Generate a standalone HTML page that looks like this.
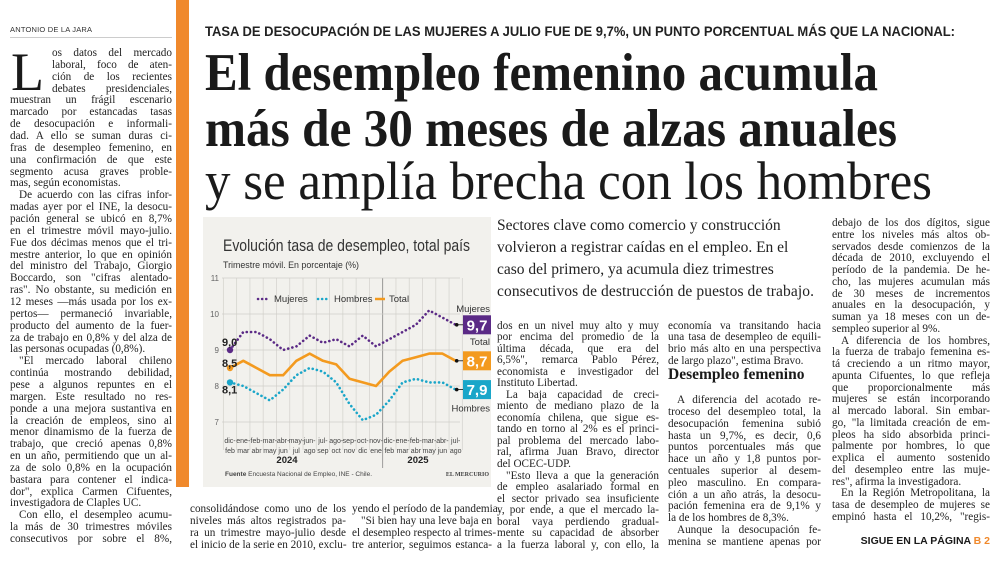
<!DOCTYPE html>
<html><head><meta charset="utf-8">
<style>
html,body{margin:0;padding:0;background:#fff;}
body{width:1000px;height:568px;position:relative;overflow:hidden;font-family:"Liberation Serif",serif;color:#1e1e1e;}
.ln{position:absolute;height:12px;line-height:12px;font-size:11.2px;font-family:"Liberation Serif",serif;text-align:justify;text-align-last:justify;white-space:nowrap;color:#222;}
.e{text-align-last:left;}
.i{text-indent:9px;}
.c1{left:10px;width:162px;}
.ca{left:497px;width:162px;}
.cb{left:668px;width:153px;}
.cc{left:832px;width:158px;}
.b1{left:190px;width:156px;}
.b2{left:352px;width:140px;}
.dk{position:absolute;left:497px;font-size:15.5px;font-family:"Liberation Serif",serif;color:#222;white-space:nowrap;height:22px;line-height:22px;}
</style></head>
<body>
<div style="position:absolute;left:176px;top:0;width:13px;height:487px;background:#f0892c;"></div>
<div style="position:absolute;left:10px;top:25px;font:7.5px 'Liberation Sans',sans-serif;color:#333;letter-spacing:0.2px;">ANTONIO DE LA JARA</div>
<div style="position:absolute;left:10px;top:37px;width:162px;height:1px;background:#ccc;"></div>

<svg style="position:absolute;left:0;top:0" width="1000" height="215">
<text x="205" y="36" font-family="Liberation Sans" font-weight="bold" font-size="14" fill="#222" textLength="750" lengthAdjust="spacingAndGlyphs">TASA DE DESOCUPACIÓN DE LAS MUJERES A JULIO FUE DE 9,7%, UN PUNTO PORCENTUAL MÁS QUE LA NACIONAL:</text>
<text x="205" y="90" font-family="Liberation Serif" font-weight="bold" font-size="53" fill="#1a1a1a" textLength="673" lengthAdjust="spacingAndGlyphs">El desempleo femenino acumula</text>
<text x="205" y="146" font-family="Liberation Serif" font-weight="bold" font-size="53" fill="#1a1a1a" textLength="692" lengthAdjust="spacingAndGlyphs">más de 30 meses de alzas anuales</text>
<text x="205" y="199" font-family="Liberation Serif" font-size="54" fill="#1a1a1a" textLength="727" lengthAdjust="spacingAndGlyphs">y se amplía brecha con los hombres</text>
<text x="11" y="90" font-family="Liberation Serif" font-size="54" fill="#1a1a1a">L</text>
</svg>

<!-- left column -->
<div class="ln" style="left:52px;width:120px;top:47px">os datos del mercado</div>
<div class="ln" style="left:52px;width:120px;top:59px">laboral, foco de aten-</div>
<div class="ln" style="left:52px;width:120px;top:71px">ción de los recientes</div>
<div class="ln" style="left:52px;width:120px;top:83px">debates presidenciales,</div>
<div class="ln c1" style="top:94px">muestran un frágil escenario</div>
<div class="ln c1" style="top:106px">marcado por estancadas tasas</div>
<div class="ln c1" style="top:118px">de desocupación e informali-</div>
<div class="ln c1" style="top:130px">dad. A ello se suman duras ci-</div>
<div class="ln c1" style="top:142px">fras de desempleo femenino, en</div>
<div class="ln c1" style="top:154px">una confirmación de que este</div>
<div class="ln c1" style="top:166px">segmento acusa graves proble-</div>
<div class="ln c1 e" style="top:177px">mas, según economistas.</div>
<div class="ln c1 i" style="top:189px">De acuerdo con las cifras infor-</div>
<div class="ln c1" style="top:201px">madas ayer por el INE, la desocu-</div>
<div class="ln c1" style="top:213px">pación general se ubicó en 8,7%</div>
<div class="ln c1" style="top:225px">en el trimestre móvil mayo-julio.</div>
<div class="ln c1" style="top:237px">Fue dos décimas menos que el tri-</div>
<div class="ln c1" style="top:249px">mestre anterior, lo que en opinión</div>
<div class="ln c1" style="top:260px">del ministro del Trabajo, Giorgio</div>
<div class="ln c1" style="top:272px">Boccardo, son "cifras alentado-</div>
<div class="ln c1" style="top:284px">ras". No obstante, su medición en</div>
<div class="ln c1" style="top:296px">12 meses —más usada por los ex-</div>
<div class="ln c1" style="top:308px">pertos— permaneció invariable,</div>
<div class="ln c1" style="top:320px">producto del aumento de la fuer-</div>
<div class="ln c1" style="top:332px">za de trabajo en 0,8% y del alza de</div>
<div class="ln c1 e" style="top:343px">las personas ocupadas (0,8%).</div>
<div class="ln c1 i" style="top:355px">"El mercado laboral chileno</div>
<div class="ln c1" style="top:367px">continúa mostrando debilidad,</div>
<div class="ln c1" style="top:379px">pese a algunos repuntes en el</div>
<div class="ln c1" style="top:391px">margen. Este resultado no res-</div>
<div class="ln c1" style="top:403px">ponde a una mejora sustantiva en</div>
<div class="ln c1" style="top:415px">la creación de empleos, sino al</div>
<div class="ln c1" style="top:426px">menor dinamismo de la fuerza de</div>
<div class="ln c1" style="top:438px">trabajo, que creció apenas 0,8%</div>
<div class="ln c1" style="top:450px">en un año, permitiendo que un al-</div>
<div class="ln c1" style="top:462px">za de solo 0,8% en la ocupación</div>
<div class="ln c1" style="top:474px">bastara para contener el indica-</div>
<div class="ln c1" style="top:486px">dor", explica Carmen Cifuentes,</div>
<div class="ln c1 e" style="top:497px">investigadora de Claples UC.</div>
<div class="ln c1 i" style="top:509px">Con ello, el desempleo acumu-</div>
<div class="ln c1" style="top:521px">la más de 30 trimestres móviles</div>
<div class="ln c1" style="top:533px">consecutivos por sobre el 8%,</div>

<!-- deck -->
<div class="dk" style="top:215px">Sectores clave como comercio y construcción</div>
<div class="dk" style="top:237px">volvieron a registrar caídas en el empleo. En el</div>
<div class="dk" style="top:259px">caso del primero, ya acumula diez trimestres</div>
<div class="dk" style="top:281px;letter-spacing:0.1px">consecutivos de destrucción de puestos de trabajo.</div>

<!-- col A -->
<div class="ln ca" style="top:320px">dos en un nivel muy alto y muy</div>
<div class="ln ca" style="top:331px">por encima del promedio de la</div>
<div class="ln ca" style="top:343px">última década, que era del</div>
<div class="ln ca" style="top:354px">6,5%", remarca Pablo Pérez,</div>
<div class="ln ca" style="top:366px">economista e investigador del</div>
<div class="ln ca e" style="top:377px">Instituto Libertad.</div>
<div class="ln ca i" style="top:389px">La baja capacidad de creci-</div>
<div class="ln ca" style="top:400px">miento de mediano plazo de la</div>
<div class="ln ca" style="top:412px">economía chilena, que sigue es-</div>
<div class="ln ca" style="top:423px">tando en torno al 2% es el princi-</div>
<div class="ln ca" style="top:435px">pal problema del mercado labo-</div>
<div class="ln ca" style="top:446px">ral, afirma Juan Bravo, director</div>
<div class="ln ca e" style="top:458px">del OCEC-UDP.</div>
<div class="ln ca i" style="top:470px">"Esto lleva a que la generación</div>
<div class="ln ca" style="top:481px">de empleo asalariado formal en</div>
<div class="ln ca" style="top:493px">el sector privado sea insuficiente</div>
<div class="ln ca" style="top:504px">y, por ende, a que el mercado la-</div>
<div class="ln ca" style="top:516px">boral vaya perdiendo gradual-</div>
<div class="ln ca" style="top:527px">mente su capacidad de absorber</div>
<div class="ln ca" style="top:539px">a la fuerza laboral y, con ello, la</div>

<!-- col B -->
<div class="ln cb" style="top:320px">economía va transitando hacia</div>
<div class="ln cb" style="top:331px">una tasa de desempleo de equili-</div>
<div class="ln cb" style="top:343px">brio más alto en una perspectiva</div>
<div class="ln cb e" style="top:355px">de largo plazo", estima Bravo.</div>
<div style="position:absolute;left:668px;top:366px;font:bold 15.5px 'Liberation Serif',serif;color:#1a1a1a;white-space:nowrap;">Desempleo femenino</div>
<div class="ln cb i" style="top:394px">A diferencia del acotado re-</div>
<div class="ln cb" style="top:406px">troceso del desempleo total, la</div>
<div class="ln cb" style="top:418px">desocupación femenina subió</div>
<div class="ln cb" style="top:430px">hasta un 9,7%, es decir, 0,6</div>
<div class="ln cb" style="top:441px">puntos porcentuales más que</div>
<div class="ln cb" style="top:453px">hace un año y 1,8 puntos por-</div>
<div class="ln cb" style="top:465px">centuales superior al desem-</div>
<div class="ln cb" style="top:477px">pleo masculino. En compara-</div>
<div class="ln cb" style="top:489px">ción a un año atrás, la desocu-</div>
<div class="ln cb" style="top:500px">pación femenina era de 9,1% y</div>
<div class="ln cb e" style="top:512px">la de los hombres de 8,3%.</div>
<div class="ln cb i" style="top:524px">Aunque la desocupación fe-</div>
<div class="ln cb" style="top:536px">menina se mantiene apenas por</div>

<!-- col C -->
<div class="ln cc" style="top:217px">debajo de los dos dígitos, sigue</div>
<div class="ln cc" style="top:229px">entre los niveles más altos ob-</div>
<div class="ln cc" style="top:241px">servados desde comienzos de la</div>
<div class="ln cc" style="top:252px">década de 2010, excluyendo el</div>
<div class="ln cc" style="top:264px">período de la pandemia. De he-</div>
<div class="ln cc" style="top:276px">cho, las mujeres acumulan más</div>
<div class="ln cc" style="top:288px">de 30 meses de incrementos</div>
<div class="ln cc" style="top:299px">anuales en la desocupación, y</div>
<div class="ln cc" style="top:311px">suman ya 18 meses con un de-</div>
<div class="ln cc e" style="top:323px">sempleo superior al 9%.</div>
<div class="ln cc i" style="top:335px">A diferencia de los hombres,</div>
<div class="ln cc" style="top:346px">la fuerza de trabajo femenina es-</div>
<div class="ln cc" style="top:358px">tá creciendo a un ritmo mayor,</div>
<div class="ln cc" style="top:370px">apunta Cifuentes, lo que refleja</div>
<div class="ln cc" style="top:382px">que proporcionalmente más</div>
<div class="ln cc" style="top:393px">mujeres se están incorporando</div>
<div class="ln cc" style="top:405px">al mercado laboral. Sin embar-</div>
<div class="ln cc" style="top:417px">go, "la limitada creación de em-</div>
<div class="ln cc" style="top:429px">pleos ha sido absorbida princi-</div>
<div class="ln cc" style="top:440px">palmente por hombres, lo que</div>
<div class="ln cc" style="top:452px">explica el aumento sostenido</div>
<div class="ln cc" style="top:464px">del desempleo entre las muje-</div>
<div class="ln cc e" style="top:476px">res", afirma la investigadora.</div>
<div class="ln cc i" style="top:487px">En la Región Metropolitana, la</div>
<div class="ln cc" style="top:499px">tasa de desempleo de mujeres se</div>
<div class="ln cc" style="top:511px">empinó hasta el 10,2%, "regis-</div>
<div style="position:absolute;left:843px;top:535px;width:147px;text-align:right;font:bold 10.5px 'Liberation Sans',sans-serif;color:#1a1a1a;white-space:nowrap;">SIGUE EN LA PÁGINA <span style="color:#f0892c">B 2</span></div>

<!-- bottom under chart -->
<div class="ln b1" style="top:503px">consolidándose como uno de los</div>
<div class="ln b1" style="top:515px">niveles más altos registrados pa-</div>
<div class="ln b1" style="top:527px">ra un trimestre mayo-julio desde</div>
<div class="ln b1" style="top:539px">el inicio de la serie en 2010, exclu-</div>
<div class="ln b2 e" style="top:503px">yendo el período de la pandemia.</div>
<div class="ln b2 i" style="top:515px">"Si bien hay una leve baja en</div>
<div class="ln b2" style="top:527px">el desempleo respecto al trimes-</div>
<div class="ln b2" style="top:539px">tre anterior, seguimos estanca-</div>

<!-- chart -->
<svg id="chart" style="position:absolute;left:0;top:0" width="1000" height="568">
<rect x="203" y="217" width="288" height="270" fill="#f2f1ed"/>
<text x="223" y="251" font-family="Liberation Sans" font-size="17" fill="#333" textLength="247" lengthAdjust="spacingAndGlyphs">Evolución tasa de desempleo, total país</text>
<text x="223" y="268" font-family="Liberation Sans" font-size="9.5" fill="#333" textLength="136" lengthAdjust="spacingAndGlyphs">Trimestre móvil. En porcentaje (%)</text>
<g id="grid"></g><g id="series"></g><g id="labels"></g>
<g>
<line x1="258" y1="299" x2="270" y2="299" stroke="#5b2a86" stroke-width="2.5" stroke-dasharray="0.1 4" stroke-linecap="round"/>
<text x="274" y="302" font-family="Liberation Sans" font-size="9.5" fill="#333">Mujeres</text>
<line x1="318" y1="299" x2="330" y2="299" stroke="#1aa6c9" stroke-width="2.5" stroke-dasharray="0.1 4" stroke-linecap="round"/>
<text x="334" y="302" font-family="Liberation Sans" font-size="9.5" fill="#333">Hombres</text>
<line x1="375" y1="299" x2="385" y2="299" stroke="#f39a1f" stroke-width="2.5"/>
<text x="389" y="302" font-family="Liberation Sans" font-size="9.5" fill="#333">Total</text>
</g>
<text x="287" y="463" text-anchor="middle" font-family="Liberation Sans" font-weight="bold" font-size="9.5" fill="#222">2024</text>
<text x="418" y="463" text-anchor="middle" font-family="Liberation Sans" font-weight="bold" font-size="9.5" fill="#222">2025</text>
<text x="225" y="476" font-family="Liberation Sans" font-size="6.5" fill="#444"><tspan font-weight="bold">Fuente</tspan> Encuesta Nacional de Empleo, INE - Chile.</text>
<text x="489" y="476" text-anchor="end" font-family="Liberation Serif" font-weight="bold" font-size="6" fill="#444">EL MERCURIO</text>
</svg>
<script>
const catTop = ["dic-","ene-","feb-","mar-","abr-","may-","jun-","jul-","ago-","sep-","oct-","nov-","dic-","ene-","feb-","mar-","abr-","jul-"];
const catBot = ["feb","mar","abr","may","jun","jul","ago","sep","oct","nov","dic","ene","feb","mar","abr","may","jun","ago"];
const mujeres = [9.0,9.5,9.5,9.3,9.0,9.1,9.4,9.2,9.3,9.1,9.4,9.1,9.3,9.5,9.7,10.1,9.9,9.7];
const hombres = [8.1,8.0,7.8,7.6,7.9,8.3,8.5,8.4,8.1,7.5,7.05,7.2,7.6,8.1,8.2,8.1,8.1,7.9];
const total = [8.5,8.7,8.5,8.3,8.3,8.7,8.9,8.7,8.6,8.2,8.1,8.0,8.4,8.7,8.8,8.9,8.9,8.7];
const yTicks = [7,8,9,10,11];
const firstLabels = ["9,0","8,5","8,1"];
const lastLabels = ["9,7","8,7","7,9"];
const NS="http://www.w3.org/2000/svg";
const X0=230, X1=455.7, Y11=278, PXU=36;
function xs(i){return X0+i*(X1-X0)/(catTop.length-1);}
function ys(v){return Y11+(11-v)*PXU;}
function mk(tag,attrs,parent){const e=document.createElementNS(NS,tag);for(const k in attrs)e.setAttribute(k,attrs[k]);parent.appendChild(e);return e;}
const grid=document.getElementById('grid'), ser=document.getElementById('series'), lab=document.getElementById('labels');
const step=(X1-X0)/(catTop.length-1);
for(let i=0;i<=catTop.length;i++){
  const x=X0-step/2+i*step;
  const l=mk('line',{x1:x,x2:x,y1:ys(11),y2:450,stroke:'#d6d5d0','stroke-width':0.8},grid);
  
  
}
const sep=mk('line',{x1:X0-step/2+12*step,x2:X0-step/2+12*step,y1:ys(11),y2:468,stroke:'#888','stroke-width':0.8},grid);


yTicks.forEach(v=>{
  const l=mk('line',{x1:222,x2:460,y1:ys(v),y2:ys(v),stroke:'#cfcec9','stroke-width':0.8},grid);
  
  
  const t=mk('text',{x:219,y:ys(v)+3,'text-anchor':'end','font-family':'Liberation Sans','font-size':8,fill:'#666'},lab);
  t.textContent=v;
  
  
});
catTop.forEach((c,i)=>{
  const t=mk('text',{x:xs(i),y:443,'text-anchor':'middle','font-family':'Liberation Sans','font-size':7,fill:'#444'},lab);
  t.textContent=c;
  
  
  const b=mk('text',{x:xs(i),y:453,'text-anchor':'middle','font-family':'Liberation Sans','font-size':7,fill:'#444'},lab);
  b.textContent=catBot[i];
  
  
});
function pts(arr){return arr.map((v,i)=>xs(i)+','+ys(v)).join(' ');}
const specs=[[mujeres,'#5b2a86',true,'mujeres-line'],[total,'#f39a1f',false,'total-line'],[hombres,'#1aa6c9',true,'hombres-line']];
specs.forEach(([arr,col,dot,nm])=>{
  const p=mk('polyline',{points:pts(arr),fill:'none',stroke:col,'stroke-width':2.6,'stroke-linecap':'round','stroke-linejoin':'round'},ser);
  if(dot)p.setAttribute('stroke-dasharray','0.1 4.2');
  
  
  const c=mk('circle',{cx:xs(0),cy:ys(arr[0]),r:3.2,fill:col},ser);
  
  
  const n=arr.length-1;
  const e=mk('circle',{cx:xs(n)+1,cy:ys(arr[n]),r:1.8,fill:'#111'},ser);
  
  
  const ln=mk('line',{x1:xs(n)+1,x2:463,y1:ys(arr[n]),y2:ys(arr[n]),stroke:'#111','stroke-width':0.8},ser);
  
  
});
[[mujeres,-4],[total,-1],[hombres,11]].forEach(([arr,dy],k)=>{
  const t=mk('text',{x:222,y:ys(arr[0])+dy,'font-family':'Liberation Sans','font-weight':'bold','font-size':11,fill:'#222'},lab);
  t.textContent=firstLabels[k];
  
  
});
const ends=[[mujeres,'#5b2a86','Mujeres',-10],[total,'#f39a1f','Total',-13],[hombres,'#1aa6c9','Hombres',22]];
ends.forEach(([arr,col,name,dy],k)=>{
  const v=arr[arr.length-1], cy=ys(v);
  const r=mk('rect',{x:463,y:cy-9.5,width:28,height:19,fill:col},lab);
  
  
  const t=mk('text',{x:477,y:cy+5.5,'text-anchor':'middle','font-family':'Liberation Sans','font-weight':'bold','font-size':15,fill:'#fff'},lab);
  t.textContent=lastLabels[k];
  
  
  const s=mk('text',{x:490,y:cy+dy+(dy<0?-3:0),'text-anchor':'end','font-family':'Liberation Sans','font-size':9.5,fill:'#333'},lab);
  s.textContent=name;
  
  
});
</script>
</body></html>
